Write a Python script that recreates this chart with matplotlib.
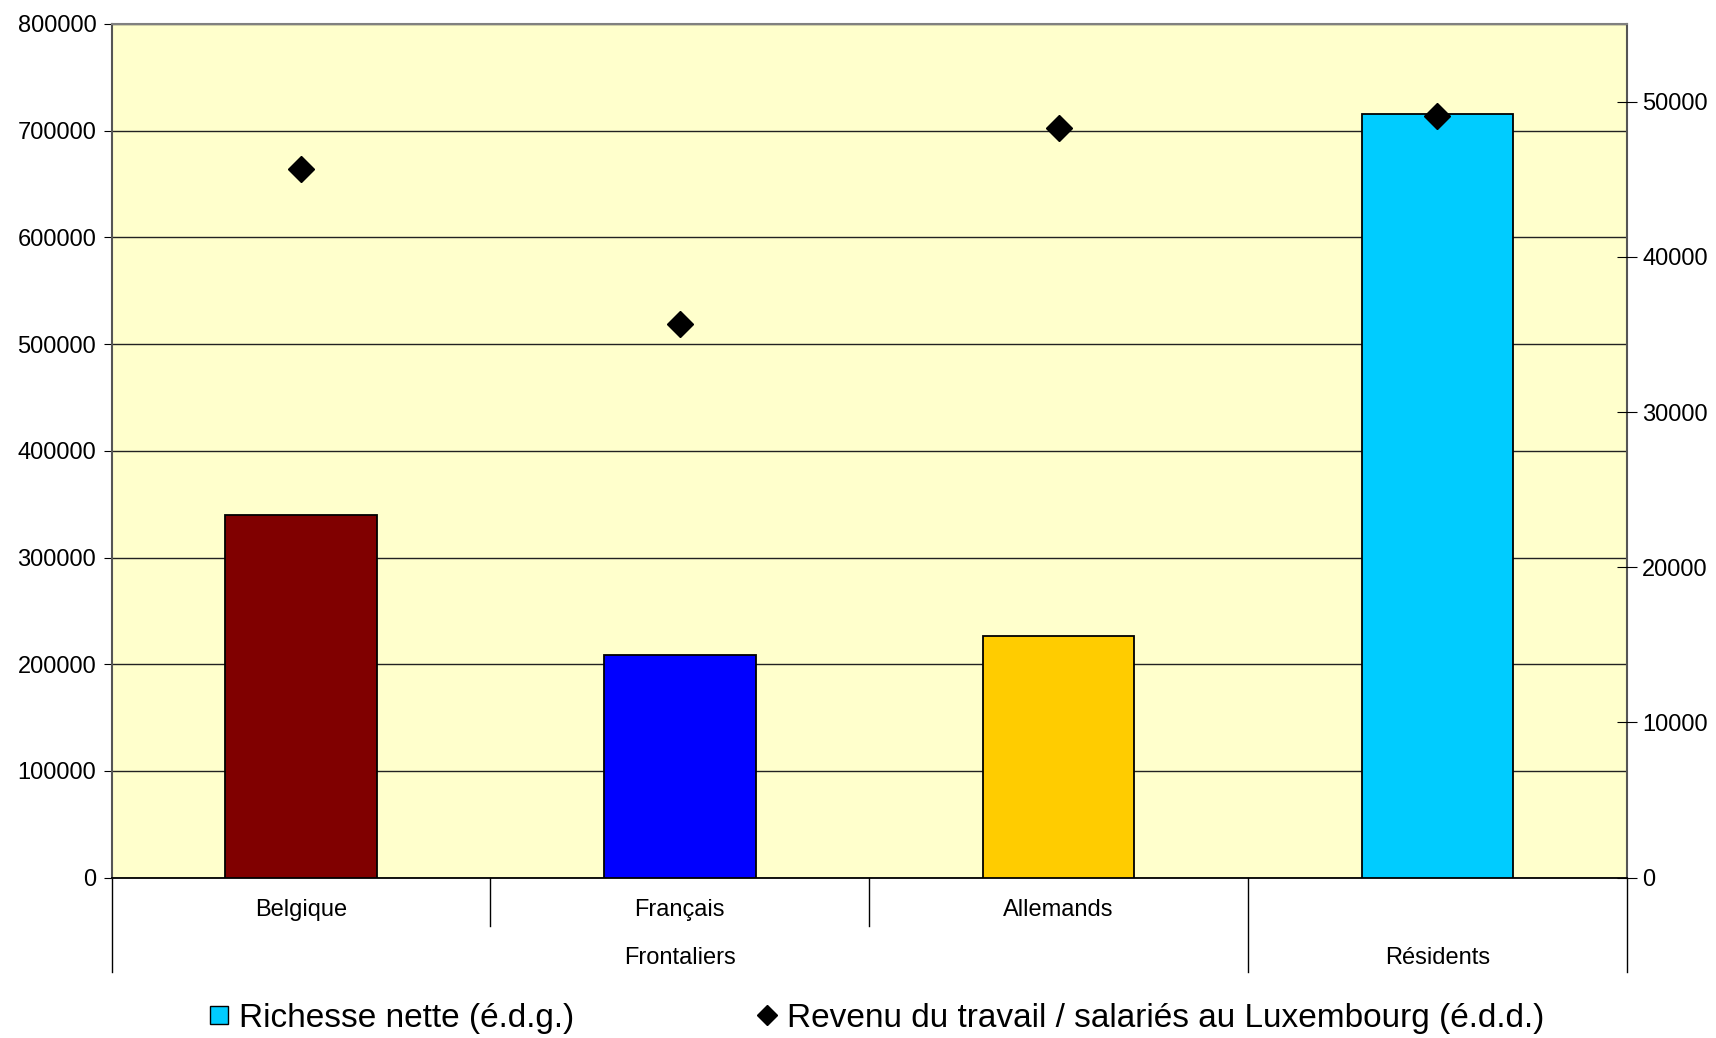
import matplotlib
matplotlib.use("Agg")
import matplotlib.pyplot as plt
from matplotlib.lines import Line2D
from matplotlib.transforms import blended_transform_factory

# Données
categories = ["Belgique", "Français", "Allemands", ""]
groupes = ["Frontaliers", "Résidents"]
richesse_nette = [340000, 209000, 226500, 716000]
revenu_travail = [45650, 35650, 48300, 49050]
couleurs = ["#800000", "#0000FF", "#FFCC00", "#00CCFF"]

plt.rcParams["font.family"] = ["Liberation Sans", "DejaVu Sans"]

fig = plt.figure(figsize=(17.16, 10.38), dpi=100)
ax = fig.add_axes([0.065, 0.1545, 0.883, 0.8224])
ax.set_facecolor("#FFFFCC")

x = list(range(len(categories)))
ax.bar(x, richesse_nette, width=0.4, color=couleurs, edgecolor="black",
       linewidth=1.3, zorder=3)

ax.set_xlim(-0.5, 3.5)
ax.set_ylim(0, 800000)
ax.set_yticks(range(0, 800001, 100000))
ax.tick_params(axis="y", labelsize=17, length=6, pad=5, direction="out")
ax.yaxis.grid(True, color="#222222", linewidth=1.0, zorder=1)
ax.set_xticks([])
for s in ["left", "right", "top"]:
    ax.spines[s].set_color("#555555")
    ax.spines[s].set_linewidth(1.5)
ax.spines["top"].set_color("#808080")
ax.spines["bottom"].set_color("black")
ax.spines["bottom"].set_linewidth(1.3)

# Axe des catégories à deux niveaux
trans = blended_transform_factory(ax.transData, ax.transAxes)
for xs, longueur in [(-0.5, 0.111), (0.5, 0.057), (1.5, 0.057), (2.5, 0.111), (3.5, 0.111)]:
    ax.plot([xs, xs], [0, -longueur], color="black", linewidth=1.0,
            transform=trans, clip_on=False)
for xi, lab in zip(x, categories):
    ax.text(xi, -0.0385, lab, transform=trans, ha="center", va="center", fontsize=17)
ax.text(1, -0.0937, groupes[0], transform=trans, ha="center", va="center", fontsize=17)
ax.text(3, -0.0937, groupes[1], transform=trans, ha="center", va="center", fontsize=17)

# Axe secondaire
ax2 = ax.twinx()
ax2.plot(x, revenu_travail, linestyle="none", marker="D", markersize=13.5,
         color="black", zorder=5)
ax2.set_ylim(0, 55000)
ax2.set_yticks(range(0, 50001, 10000))
ax2.tick_params(axis="y", labelsize=17, length=14, pad=4, direction="inout")
for s in ["left", "right", "top", "bottom"]:
    ax2.spines[s].set_visible(False)

handles = [
    Line2D([], [], linestyle="none", marker="s", markersize=13,
           markerfacecolor="#00CCFF", markeredgecolor="black"),
    Line2D([], [], linestyle="none", marker="D", markersize=10, color="black"),
]
labels = ["Richesse nette (é.d.g.)", "Revenu du travail / salariés au Luxembourg (é.d.d.)"]
fig.legend(handles, labels, loc="center", bbox_to_anchor=(0.511, 0.019), ncol=2,
           frameon=False, fontsize=24, handlelength=0.6, handletextpad=0.3,
           columnspacing=5.5, borderpad=0)

fig.savefig("out.png", dpi=100)
